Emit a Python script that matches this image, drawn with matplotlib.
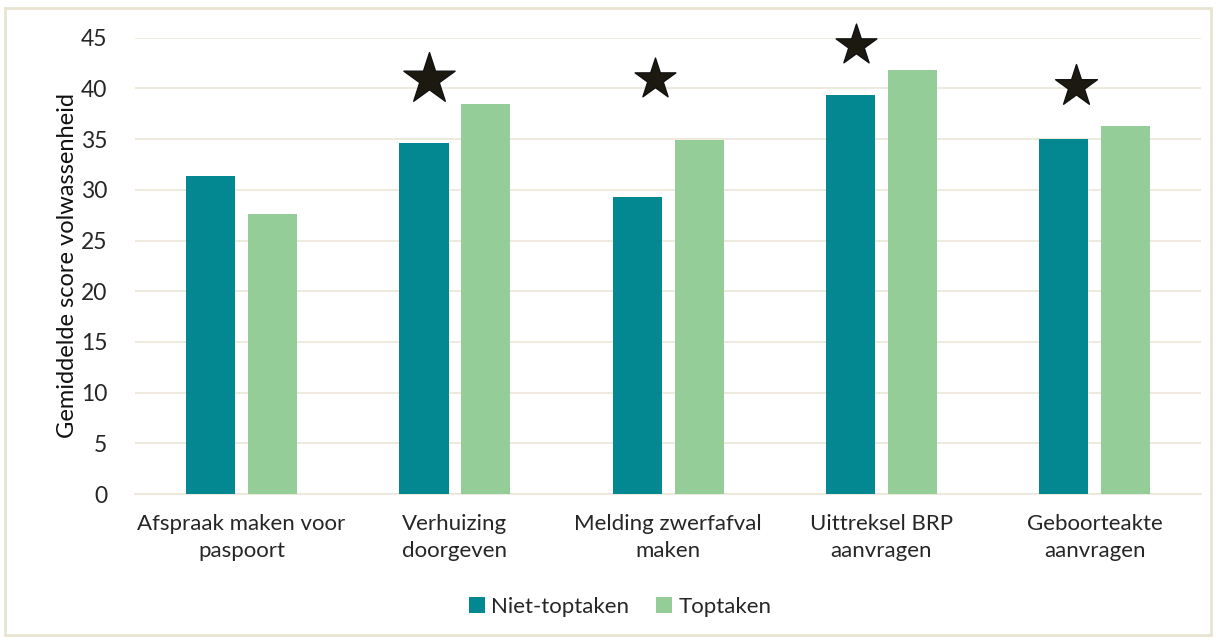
import matplotlib.pyplot as plt
import numpy as np
from matplotlib.patches import Rectangle

plt.rcParams['font.family'] = ['Lato', 'DejaVu Sans']

# data
categories = ['Afspraak maken voor\npaspoort', 'Verhuizing\ndoorgeven',
              'Melding zwerfafval\nmaken', 'Uittreksel BRP\naanvragen',
              'Geboorteakte\naanvragen']
niet_toptaken = [31.4, 34.6, 29.3, 39.4, 35.0]
toptaken = [27.6, 38.5, 34.9, 41.8, 36.3]
# significance stars (category index, height)
star_cat = [1, 2, 3, 4]
star_y = [40.9, 40.9, 44.3, 40.2]
star_dx = [-0.12, -0.06, -0.12, -0.09]
star_size = [1500, 950, 950, 1000]

fig = plt.figure(figsize=(12.16, 6.4), dpi=100)
axe = fig.add_axes([0.111, 0.228, 0.877, 0.713])

x = np.arange(len(categories))
w = 0.23
axe.bar(x - 0.145, niet_toptaken, w, color='#038790', label='Niet-toptaken', zorder=3)
axe.bar(x + 0.145, toptaken, w, color='#95cd99', label='Toptaken', zorder=3)

for c, y, dx, s in zip(star_cat, star_y, star_dx, star_size):
    axe.scatter(c + dx, y, marker='*', s=s, color='#1c1a10', edgecolor='#111111',
                linewidth=1, zorder=4, clip_on=False)

axe.set_xlim(-0.5, len(categories) - 0.5)
axe.set_ylim(0, 45)
axe.set_yticks(np.arange(0, 46, 5))
axe.set_xticks(x)
axe.set_xticklabels(categories, fontsize=16, color='#262626', linespacing=1.45)
axe.tick_params(axis='y', labelsize=16.5, colors='#262626', length=0, pad=20)
axe.tick_params(axis='x', length=0, pad=14)
axe.grid(axis='y', color='#ebe6d8', linewidth=1.2, zorder=0)
for sp in ['top', 'right', 'left']:
    axe.spines[sp].set_visible(False)
axe.spines['bottom'].set_color('#ebe6d8')
axe.spines['bottom'].set_linewidth(1.2)

axe.set_ylabel('Gemiddelde score volwassenheid', fontsize=17, color='#111111', labelpad=2)

fig.legend(loc='center', bbox_to_anchor=(0.51, 0.052), ncol=2, frameon=False,
           fontsize=16, handlelength=0.7, handleheight=0.7, handletextpad=0.3,
           columnspacing=1.2, labelcolor='#262626')

# frame around the figure
fig.patches.append(Rectangle((0.004, 0.008), 0.992, 0.98, transform=fig.transFigure,
                             fill=False, edgecolor='#e8e4d2', linewidth=2))

fig.savefig('out.png', dpi=100)
